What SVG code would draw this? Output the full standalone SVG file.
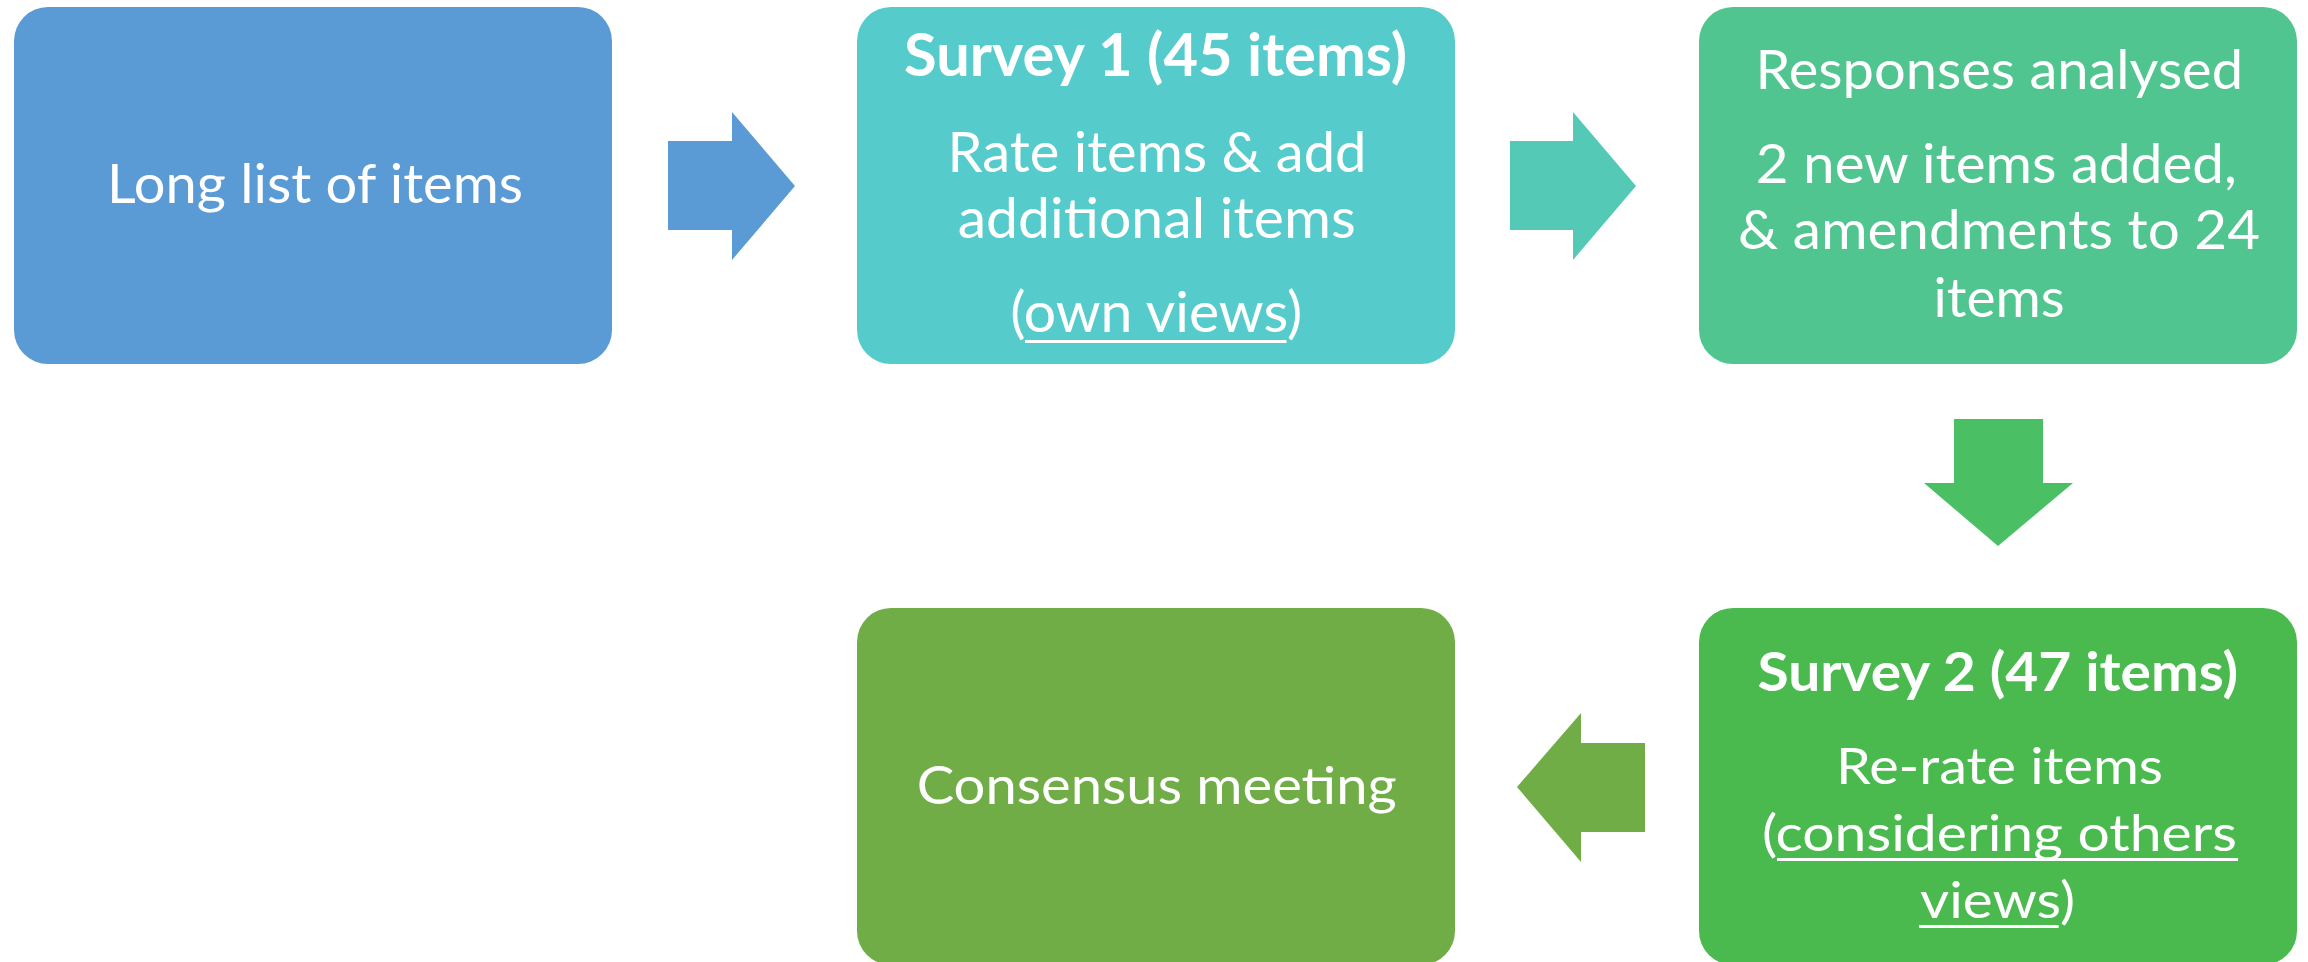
<svg xmlns="http://www.w3.org/2000/svg" width="2308" height="962" viewBox="0 0 2308 962">
<style>
text{font-family:Lato,"Open Sans","Liberation Sans",sans-serif;fill:#fff;text-anchor:middle}
.r{font-weight:400}
.b{font-weight:700}
.u{stroke:#fff;stroke-width:3}
</style>
<rect width="2308" height="962" fill="#fff"/>
<g id="connectors">
<polygon id="arrow1" fill="#5B9BD5" points="668,141 732,141 732,112 795,186 732,260 732,230 668,230"/>
<polygon id="arrow2" fill="#53C9B6" points="1510,141 1573,141 1573,112 1636,186 1573,260 1573,230 1510,230"/>
<polygon id="arrow3" fill="#4ABF64" points="1954,419 2043,419 2043,483 2073,483 1998,546 1924,483 1954,483"/>
<polygon id="arrow4" fill="#70AD47" points="1645,743 1645,832 1581,832 1581,862 1517,787 1581,713 1581,743"/>
</g>
<g id="node1">
<rect x="14" y="7" width="598" height="357" rx="34" ry="34" fill="#5B9BD5"/>
<text class="r" x="315" y="202.5" font-size="54" textLength="416" lengthAdjust="spacingAndGlyphs">Long list of items</text>
</g>
<g id="node2">
<rect x="857" y="7" width="598" height="357" rx="34" ry="34" fill="#56CBCC"/>
<text class="b" x="1155.6" y="76" font-size="59.6" textLength="503" lengthAdjust="spacingAndGlyphs">Survey 1 (45 items)</text>
<text class="r" x="1157" y="171.7" font-size="55.8" textLength="419" lengthAdjust="spacingAndGlyphs">Rate items &amp; add</text>
<text class="r" x="1156.7" y="238.3" font-size="55.8" textLength="398" lengthAdjust="spacingAndGlyphs">additional items</text>
<text class="r" x="1156.2" y="331.7" font-size="55.8" textLength="292" lengthAdjust="spacingAndGlyphs">(own views)</text>
<line class="u" x1="1025" y1="341.5" x2="1286.5" y2="341.5"/>
</g>
<g id="node3">
<rect x="1699" y="7" width="598" height="357" rx="34" ry="34" fill="#50C58F"/>
<text class="r" x="1999.3" y="89.3" font-size="54" textLength="487.5" lengthAdjust="spacingAndGlyphs">Responses analysed</text>
<text class="r" x="1996.3" y="183.3" font-size="54" textLength="481" lengthAdjust="spacingAndGlyphs">2 new items added,</text>
<text class="r" x="1999" y="249.3" font-size="54" textLength="522" lengthAdjust="spacingAndGlyphs">&amp; amendments to 24</text>
<text class="r" x="1999.1" y="316.7" font-size="54" textLength="131" lengthAdjust="spacingAndGlyphs">items</text>
</g>
<g id="node4">
<rect x="857" y="608" width="598" height="357" rx="34" ry="34" fill="#70AD47"/>
<text class="r" x="1156.7" y="804" font-size="53" textLength="480" lengthAdjust="spacingAndGlyphs">Consensus meeting</text>
</g>
<g id="node5">
<rect x="1699" y="608" width="598" height="357" rx="34" ry="34" fill="#4ABA4F"/>
<text class="b" x="1997.8" y="690.7" font-size="54.4" textLength="480.5" lengthAdjust="spacingAndGlyphs">Survey 2 (47 items)</text>
<text class="r" x="1999.5" y="784" font-size="51.2" textLength="327" lengthAdjust="spacingAndGlyphs">Re-rate items</text>
<text class="r" x="1999.5" y="850.7" font-size="51.2" textLength="475" lengthAdjust="spacingAndGlyphs">(considering others</text>
<line class="u" x1="1777" y1="859.5" x2="2238" y2="859.5"/>
<text class="r" x="1997.5" y="918.3" font-size="51.2" textLength="155" lengthAdjust="spacingAndGlyphs">views)</text>
<line class="u" x1="1919" y1="926.5" x2="2058.6" y2="926.5"/>
</g>
</svg>
